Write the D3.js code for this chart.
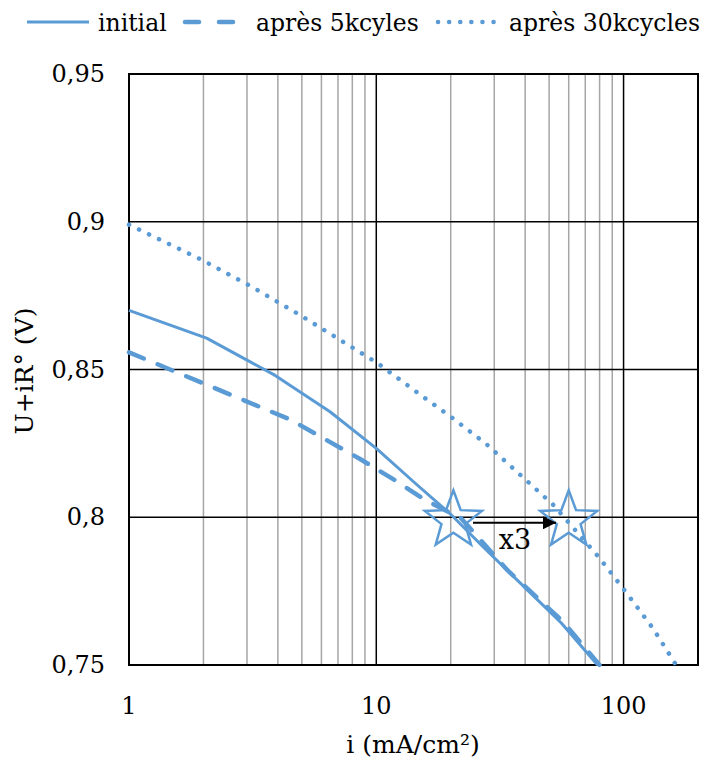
<!DOCTYPE html>
<html><head><meta charset="utf-8">
<script src="https://cdn.jsdelivr.net/npm/d3@7/dist/d3.min.js"></script>
<style>body{margin:0;background:#fff}svg{display:block}</style>
</head><body>
<svg id="c" width="716" height="760" font-family="'DejaVu Serif', 'Liberation Serif', 'Noto Serif', serif"></svg>
<script>
const seriesNames = ["initial", "après 5kcyles", "après 30kcycles"];
const initialI = [1, 2.06, 3.9, 6.5, 10, 14.6, 20, 27, 42, 56, 78.5];
const initialU = [0.870, 0.8606, 0.848, 0.8357, 0.8233, 0.811, 0.801, 0.790, 0.7744, 0.7642, 0.750];
const cyc5kI = [1, 4.5, 8.6, 11.7, 15.8, 22, 34, 57, 80];
const cyc5kU = [0.8558, 0.833, 0.8197, 0.8129, 0.8058, 0.7997, 0.782, 0.7646, 0.750];
const cyc30kI = [1, 1.97, 3.15, 4.92, 7.7, 10.1, 15.5, 20.1, 28.1, 52.1, 79.2, 102.8, 132, 164];
const cyc30kU = [0.899, 0.8871, 0.8779, 0.8684, 0.8583, 0.8522, 0.8407, 0.8339, 0.8245, 0.8041, 0.7866, 0.7744, 0.7622, 0.7497];
const xMajorTicks = [1, 10, 100];
const xMinorTicks = [2,3,4,5,6,7,8,9,20,30,40,50,60,70,80,90];
const yTicks = [0.75, 0.8, 0.85, 0.9, 0.95];
const starI = [20.5, 60];
const starU = 0.8;
const annotText = "x3";

const svg = d3.select("#c");
const L = 129, R = 698, T = 74, B = 665;
const x = d3.scaleLog().domain([1, 200]).range([L, R]);
const y = d3.scaleLinear().domain([0.75, 0.95]).range([B, T]);
const blue = "#5b9bd5";
const FS = 24;
const FF = "'DejaVu Serif', 'Liberation Serif', 'Noto Serif', serif";

// minor vertical grid
svg.append("g").selectAll("line").data(xMinorTicks).join("line")
  .attr("x1", d => x(d)).attr("x2", d => x(d)).attr("y1", T).attr("y2", B)
  .attr("stroke", "#a6a6a6").attr("stroke-width", 1.5);
// major vertical grid
svg.append("g").selectAll("line").data([10, 100]).join("line")
  .attr("x1", d => x(d)).attr("x2", d => x(d)).attr("y1", T).attr("y2", B)
  .attr("stroke", "#000").attr("stroke-width", 1.5);
// horizontal grid
svg.append("g").selectAll("line").data([0.8, 0.85, 0.9]).join("line")
  .attr("x1", L).attr("x2", R).attr("y1", d => y(d)).attr("y2", d => y(d))
  .attr("stroke", "#000").attr("stroke-width", 1.5);
// border
svg.append("rect").attr("x", L).attr("y", T).attr("width", R - L).attr("height", B - T)
  .attr("fill", "none").attr("stroke", "#000").attr("stroke-width", 2);

// axis labels
const fmt = d => String(+d.toFixed(2)).replace(".", ",");
svg.append("g").selectAll("text").data(yTicks).join("text")
  .attr("x", 105).attr("y", d => y(d) + 8).attr("text-anchor", "end")
  .attr("font-family", FF).attr("font-size", FS).text(fmt);
svg.append("g").selectAll("text").data(xMajorTicks).join("text")
  .attr("x", d => x(d)).attr("y", 714).attr("text-anchor", "middle")
  .attr("font-family", FF).attr("font-size", FS).text(d => d);
svg.append("text").attr("x", 413).attr("y", 753).attr("text-anchor", "middle")
  .attr("font-family", FF).attr("font-size", 25).text("i (mA/cm²)");
svg.append("text").attr("transform", "translate(33,371) rotate(-90)").attr("text-anchor", "middle")
  .attr("font-family", FF).attr("font-size", 25).text("U+iR° (V)");

// series
const styles = [
  {w: 3, dash: null, cap: "butt"},
  {w: 4.5, dash: "16 15", cap: "round"},
  {w: 4.5, dash: "0.1 11", cap: "round"}
];
const data = [
  initialI.map((v, k) => [v, initialU[k]]),
  cyc5kI.map((v, k) => [v, cyc5kU[k]]),
  cyc30kI.map((v, k) => [v, cyc30kU[k]])
];
const line = d3.line().x(d => x(d[0])).y(d => y(d[1]));
data.forEach((d, k) => {
  svg.append("path").datum(d).attr("d", line).attr("fill", "none")
    .attr("stroke", blue).attr("stroke-width", styles[k].w)
    .attr("stroke-dasharray", styles[k].dash).attr("stroke-linecap", styles[k].cap)
    .attr("stroke-linejoin", "round");
});

// stars
function starPath(ro, ri) {
  const pts = [];
  for (let k = 0; k < 10; k++) {
    const a = -Math.PI / 2 + k * Math.PI / 5;
    const r = k % 2 ? ri : ro;
    pts.push([r * Math.cos(a), r * Math.sin(a)]);
  }
  return "M" + pts.map(p => p.join(",")).join("L") + "Z";
}
svg.append("g").selectAll("path").data(starI).join("path")
  .attr("d", starPath(30, 12.5)).attr("transform", d => `translate(${x(d)},${y(starU) + 3})`)
  .attr("fill", "none").attr("stroke", blue).attr("stroke-width", 2.5).attr("stroke-linejoin", "miter");

// arrow
svg.append("defs").append("marker").attr("id", "ah").attr("viewBox", "0 0 10 10")
  .attr("refX", 10).attr("refY", 5).attr("markerWidth", 15).attr("markerHeight", 13)
  .attr("markerUnits", "userSpaceOnUse").attr("orient", "auto")
  .append("path").attr("d", "M0,0 L10,5 L0,10 Z").attr("fill", "#000");
svg.append("line").attr("x1", 473).attr("x2", 556)
  .attr("y1", y(starU) + 5.5).attr("y2", y(starU) + 5.5)
  .attr("stroke", "#000").attr("stroke-width", 2).attr("marker-end", "url(#ah)");
svg.append("text").attr("x", 515).attr("y", 549).attr("text-anchor", "middle")
  .attr("font-family", FF).attr("font-size", 27).text(annotText);

// legend
const leg = [
  {x1: 27, x2: 89, tx: 98},
  {x1: 185, x2: 242, tx: 256},
  {x1: 438, x2: 498, tx: 509}
];
leg.forEach((g, k) => {
  svg.append("line").attr("x1", g.x1).attr("x2", g.x2).attr("y1", 22).attr("y2", 22)
    .attr("stroke", blue).attr("stroke-width", styles[k].w)
    .attr("stroke-dasharray", k === 1 ? "14 20" : styles[k].dash)
    .attr("stroke-linecap", styles[k].cap);
  svg.append("text").attr("x", g.tx).attr("y", 31).attr("font-family", FF)
    .attr("font-size", 23.5).text(seriesNames[k]);
});
</script>
</body></html>
